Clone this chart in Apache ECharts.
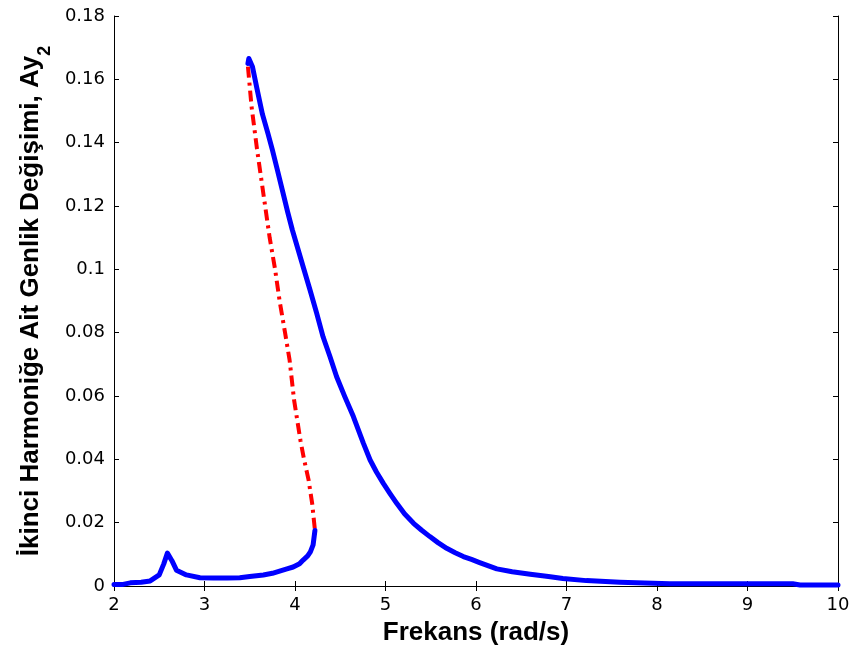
<!DOCTYPE html>
<html><head><meta charset="utf-8">
<script src="https://cdn.jsdelivr.net/npm/echarts@6/dist/echarts.min.js"></script>
<style>html,body{margin:0;padding:0;background:#fff}#c{width:854px;height:656px}</style>
</head><body><div id="c"></div>
<script>
// Lower (stable) branch of the blue curve
var lowerX = [2.0, 2.1, 2.18, 2.3, 2.4, 2.5, 2.55, 2.59, 2.64, 2.69, 2.8, 2.95, 3.1, 3.25, 3.39, 3.5, 3.65, 3.75, 3.83, 3.92, 3.98, 4.05, 4.09, 4.14, 4.17, 4.2, 4.22];
var lowerY = [0.0005, 0.0005, 0.001, 0.0012, 0.0016, 0.0035, 0.007, 0.0104, 0.008, 0.005, 0.0035, 0.0026, 0.0025, 0.0025, 0.0026, 0.003, 0.0035, 0.004, 0.0047, 0.0055, 0.006, 0.007, 0.0082, 0.0095, 0.0108, 0.013, 0.0175];
// Upper branch of the blue curve
var upperX = [3.48, 3.49, 3.51, 3.53, 3.58, 3.64, 3.7, 3.75, 3.8, 3.86, 3.92, 3.97, 4.09, 4.166, 4.24, 4.31, 4.387, 4.46, 4.55, 4.645, 4.755, 4.83, 4.9, 4.976, 5.05, 5.124, 5.21, 5.31, 5.4, 5.49, 5.58, 5.676, 5.77, 5.86, 5.95, 6.04, 6.23, 6.4, 6.6, 6.8, 6.96, 7.22, 7.59, 8.14, 8.8, 9.5, 9.58, 10.0];
var upperY = [0.165, 0.1666, 0.1662, 0.164, 0.157, 0.149, 0.143, 0.1377, 0.132, 0.125, 0.118, 0.1125, 0.1008, 0.0935, 0.0861, 0.0787, 0.0724, 0.0661, 0.0598, 0.0535, 0.0451, 0.0398, 0.036, 0.0324, 0.0292, 0.0261, 0.0228, 0.0198, 0.0176, 0.0156, 0.0137, 0.0119, 0.0105, 0.0093, 0.0084, 0.0074, 0.0054, 0.0045, 0.0037, 0.003, 0.0024, 0.0017, 0.0012, 0.0007, 0.0007, 0.0007, 0.0003, 0.0003];
// Red dash-dot (unstable) branch
var redX = [3.48, 3.52, 3.58, 3.63, 3.72, 3.78, 3.83, 3.89, 3.94, 3.99, 4.06, 4.1, 4.15, 4.19, 4.22];
var redY = [0.164, 0.1514, 0.138, 0.128, 0.110, 0.1, 0.090, 0.080, 0.0714, 0.0587, 0.046, 0.040, 0.0335, 0.026, 0.0177];
var xTicks = [2, 3, 4, 5, 6, 7, 8, 9, 10];
var yTicks = [0, 0.02, 0.04, 0.06, 0.08, 0.1, 0.12, 0.14, 0.16, 0.18];

function pairs(xs, ys) { return xs.map(function (x, i) { return [x, ys[i]]; }); }

var font = 'Liberation Sans, Arial, sans-serif';
var tickFont = 'DejaVu Sans, sans-serif';
var chart = echarts.init(document.getElementById('c'));
var axisLine = { show: true, lineStyle: { color: '#000', width: 1 } };
chart.setOption({
  animation: false,
  grid: { left: 114, right: 16, top: 16, bottom: 70, containLabel: false },
  xAxis: [{
    type: 'value', min: xTicks[0], max: xTicks[xTicks.length - 1], interval: 1,
    axisLine: axisLine, splitLine: { show: false },
    axisTick: { show: true, inside: true, length: 5, lineStyle: { color: '#000' } },
    axisLabel: { color: '#000', fontSize: 18, fontFamily: tickFont, margin: 10 },
    name: 'Frekans (rad/s)', nameLocation: 'middle', nameGap: 34,
    nameTextStyle: { color: '#000', fontSize: 26, fontWeight: 'bold', fontFamily: font }
  }, {
    type: 'value', position: 'top', min: xTicks[0], max: xTicks[xTicks.length - 1], interval: 1,
    axisLine: axisLine, splitLine: { show: false },
    axisTick: { show: true, inside: true, length: 5, lineStyle: { color: '#000' } },
    axisLabel: { show: false }
  }],
  yAxis: [{
    type: 'value', min: 0, max: 0.18, interval: 0.02,
    axisLine: axisLine, splitLine: { show: false },
    axisTick: { show: true, inside: true, length: 5, lineStyle: { color: '#000' } },
    axisLabel: { color: '#000', fontSize: 18, fontFamily: tickFont, margin: 9,
      formatter: function (v) { return String(Math.round(v * 100) / 100); } },
    name: '{a|İkinci Harmoniğe Ait Genlik Değişimi, Ay}{s|2}',
    nameLocation: 'middle', nameGap: 70, nameRotate: 90,
    nameTextStyle: { color: '#000', fontFamily: font,
      rich: {
        a: { fontSize: 26, fontWeight: 'bold', fontFamily: font, color: '#000' },
        s: { fontSize: 18, fontWeight: 'bold', fontFamily: font, color: '#000', verticalAlign: 'bottom', padding: [0, 0, -10, 0] }
      } }
  }, {
    type: 'value', position: 'right', min: 0, max: 0.18, interval: 0.02,
    axisLine: axisLine, splitLine: { show: false },
    axisTick: { show: true, inside: true, length: 5, lineStyle: { color: '#000' } },
    axisLabel: { show: false }
  }],
  series: [{
    type: 'line', data: pairs(redX, redY), showSymbol: false, z: 2,
    lineStyle: { color: '#ff0000', width: 4, type: [11, 5, 3, 5] }
  }, {
    type: 'line', data: pairs(lowerX, lowerY), showSymbol: false, z: 3,
    lineStyle: { color: '#0000ff', width: 5, cap: 'round', join: 'round' }
  }, {
    type: 'line', data: pairs(upperX, upperY), showSymbol: false, z: 3,
    lineStyle: { color: '#0000ff', width: 5, cap: 'round', join: 'round' }
  }]
});
</script></body></html>
